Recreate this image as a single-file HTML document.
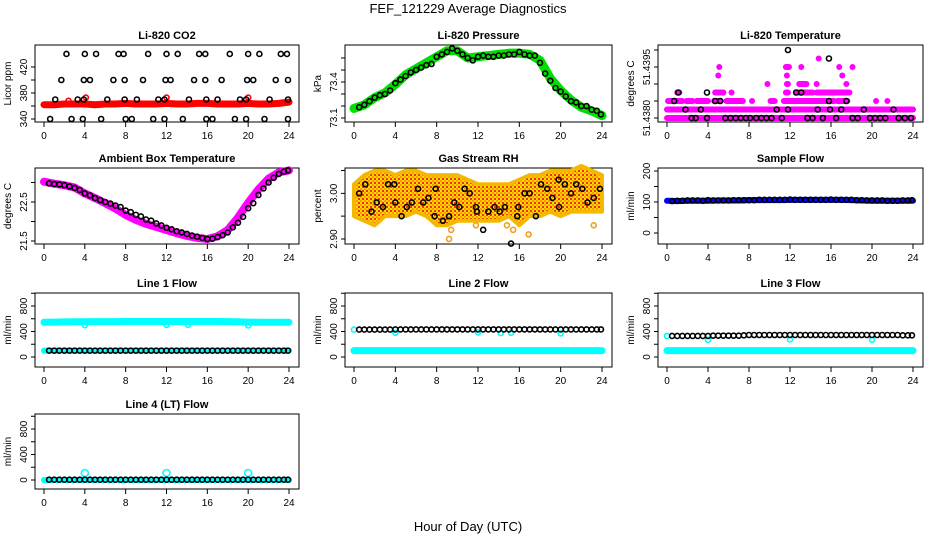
<!DOCTYPE html>
<html><head><meta charset="utf-8">
<style>
html,body{margin:0;padding:0;background:#fff;}
svg{display:block;font-family:"Liberation Sans",sans-serif;}
</style></head>
<body>
<svg id="chart" width="936" height="540" viewBox="0 0 936 540" xmlns="http://www.w3.org/2000/svg">
<defs>
<pattern id="rhpat" width="4" height="4" patternUnits="userSpaceOnUse">
<rect width="4" height="4" fill="#ffd800"/>
<rect x="0" y="0" width="2" height="2" fill="#ff9900"/>
<rect x="2" y="2" width="2" height="2" fill="#ee3300"/>
</pattern>
</defs>
<rect width="936" height="540" fill="#fff"/>
<text x="468" y="13" text-anchor="middle" font-size="13">FEF_121229  Average Diagnostics</text>
<text x="468" y="531" text-anchor="middle" font-size="13">Hour of Day (UTC)</text>
</svg>
<script>
// ---------- data ----------
const hours = [0,1,2,3,4,5,6,7,8,9,10,11,12,13,14,15,16,17,18,19,20,21,22,23,24];
const halfHours = [0.5,1,1.5,2,2.5,3,3.5,4,4.5,5,5.5,6,6.5,7,7.5,8,8.5,9,9.5,10,10.5,11,11.5,12,12.5,13,13.5,14,14.5,15,15.5,16,16.5,17,17.5,18,18.5,19,19.5,20,20.5,21,21.5,22,22.5,23,23.5,23.9];
const xTicks = [0,4,8,12,16,20,24];
const xTickLabels = ["0","4","8","12","16","20","24"];

// CO2
const co2Band = [362,362,363,363,363,362,363,363,364,363,363,363,364,363,363,364,364,363,363,363,364,363,363,364,366];
const co2SpikeHours = [2.4,4.1,12,20];
const co2SpikeVals = [368,373,373,373];
const co2BlackHours = [2.2,4,5.1,7.3,7.8,10.2,12,13.1,15.2,15.8,18.2,20,21.1,23.2,23.8, 1.7,3.9,4.5,6.8,7.9,9.7,11.9,12.4,14.7,15.8,17.4,19.9,20.5,22.7,23.9, 1.1,3.3,3.9,6.2,7.9,9.1,11.2,11.8,14.2,15.9,17,19.2,19.8,22.1,23.9, 0.6,2.7,3.8,5.6,8,8.6,10.7,11.8,13.6,15.9,16.5,18.7,19.8,21.6,23.9];
const co2BlackVals = [440,440,440,440,440,440,440,440,440,440,440,440,440,440,440, 400,400,400,400,400,400,400,400,400,400,400,400,400,400,400, 370,370,370,370,370,370,370,370,370,370,370,370,370,370,370, 340,340,340,340,340,340,340,340,340,340,340,340,340,340,340];

// Pressure
const presBand = [73.18,73.21,73.27,73.31,73.38,73.46,73.51,73.56,73.61,73.66,73.66,73.60,73.61,73.62,73.63,73.64,73.64,73.63,73.58,73.43,73.33,73.25,73.19,73.16,73.12];
const presBlack = [73.19,73.21,73.24,73.27,73.29,73.30,73.33,73.39,73.42,73.45,73.48,73.50,73.52,73.54,73.55,73.61,73.63,73.65,73.68,73.66,73.63,73.60,73.58,73.61,73.62,73.61,73.61,73.62,73.62,73.63,73.63,73.65,73.63,73.62,73.62,73.56,73.47,73.41,73.35,73.32,73.28,73.24,73.23,73.20,73.20,73.17,73.16,73.13];

// Li-820 temperature (levels in steps of 0.00025 above 51.4380)
const tempSegLevel = [0,1,2,2,2,2,2,2,2,2,2,2,2,3,3,3,3,3,3,3,4,4,4,4,4,5,5,5,6,6,6,6,6,7];
const tempSegStart = [0,0,0.1,1.9,2.9,4.6,5.8,8.3,10.1,11.4,16.6,20.4,21.5,1.0,4.7,6.3,11.6,12.6,14.6,17.5,9.8,11.7,12.9,14.6,17.5,5.0,11.7,17.1,5.1,11.6,13.1,16.8,18.1,14.8];
const tempSegEnd = [24,24,1.5,2.5,4.0,5.2,7.4,8.3,10.5,16.3,17.6,20.4,21.5,1.2,5.5,6.3,11.8,14.2,17.3,17.8,9.8,11.8,13.6,14.6,17.5,5.0,11.7,17.1,5.1,11.9,13.1,16.8,18.1,14.8];
const tempBlackHours = [0.7,1.1,1.8,2.4,2.8,3.3,3.9,3.9,4.7,5.2,5.7,6.2,6.7,7.2,7.7,8.1,8.7,9.2,9.7,10.2,10.7,11.2,11.8,11.8,12.6,13.1,13.7,14.2,14.7,15.2,15.8,15.9,15.8,16.5,17.0,17.5,18.1,18.6,19.2,19.8,20.3,20.8,21.3,22.1,22.6,23.2,23.8];
const tempBlackLvl = [2,3,1,0,0,1,0,3,2,2,0,0,0,0,0,0,0,0,0,0,1,0,1,8,3,3,0,0,1,0,2,1,7,0,1,2,0,0,1,0,0,0,0,1,0,0,0];

// Ambient box temperature
const ambBand = [23.02,22.97,22.93,22.87,22.72,22.60,22.47,22.33,22.17,22.04,21.94,21.86,21.78,21.70,21.63,21.58,21.55,21.62,21.78,22.10,22.48,22.82,23.10,23.26,23.31];
const ambBlack = [22.98,22.96,22.95,22.93,22.90,22.86,22.81,22.72,22.67,22.60,22.55,22.50,22.46,22.41,22.37,22.28,22.24,22.17,22.13,22.05,22.02,21.95,21.90,21.84,21.80,21.75,21.72,21.68,21.64,21.61,21.58,21.55,21.56,21.60,21.65,21.72,21.85,21.97,22.12,22.34,22.47,22.68,22.85,23.00,23.12,23.22,23.28,23.31];

// Gas stream RH
const rhUpper = [3.02,3.04,3.05,3.05,3.04,3.05,3.05,3.04,3.04,3.04,3.04,3.03,3.02,3.02,3.02,3.02,3.03,3.04,3.04,3.05,3.05,3.05,3.06,3.05,3.04];
const rhLower = [2.95,2.94,2.93,2.95,2.95,2.95,2.96,2.95,2.93,2.93,2.94,2.94,2.94,2.94,2.94,2.95,2.93,2.95,2.95,2.96,2.95,2.96,2.96,2.96,2.96];
const rhOutHours = [9.2,9.4,11.8,14.8,15.4,16.9,23.2];
const rhOutVals = [2.90,2.92,2.93,2.93,2.92,2.91,2.93];
const rhBlackHours = [0.5,1.1,1.7,2.2,2.8,3.3,3.9,4,4.6,5.1,5.6,6.2,6.7,7.2,7.8,7.9,8.6,9.2,9.7,10.2,10.7,11.2,11.8,11.9,12.5,13,13.6,14.1,14.6,15.2,15.8,15.9,16.5,17,17.6,18.1,18.7,19.2,19.8,19.85,20.4,21,21.5,22.1,22.6,23.2,23.8];
const rhBlackVals = [3.00,3.02,2.96,2.98,2.97,3.02,3.02,2.98,2.95,2.97,2.98,3.01,2.98,2.99,2.95,3.01,2.94,2.95,2.98,2.97,3.01,3.00,2.97,2.96,2.92,2.96,2.97,2.96,2.97,2.89,2.95,2.97,3.00,3.00,2.95,3.02,3.01,2.99,3.03,2.97,3.02,3.00,3.02,3.01,2.98,2.99,3.01];

// Sample flow
const sampleBand = [104,103,104,104,104,105,105,105,106,106,106,106,107,107,107,107,107,107,106,105,104,104,104,104,104];
const sampleBlack = [103,104,104,105,105,105,104,106,105,105,105,105,106,106,106,106,106,107,107,107,107,107,107,108,107,107,107,107,107,107,107,108,107,107,107,107,106,106,105,105,105,105,104,104,104,105,105,106];

// Line flows
const line1Cyan = [545,548,550,552,553,554,554,555,556,556,556,556,556,556,556,556,556,556,555,552,548,546,546,546,546];
const line1Black = [100,100,100,100,100,100,100,100,100,100,100,100,100,100,100,100,100,100,100,100,100,100,100,100,100,100,100,100,100,100,100,100,100,100,100,100,100,100,100,100,100,100,100,100,100,100,100,100];
const line1DipHours = [4,12,14.1,20];
const line1DipVals = [500,505,505,495];
const line2Cyan = [100,100,100,100,100,100,100,100,100,100,100,100,100,100,100,100,100,100,100,100,100,100,100,100,100];
const line2Black = [430,430,430,430,430,430,430,432,432,432,432,432,432,432,432,432,433,433,433,433,433,433,433,433,433,433,433,433,433,433,433,433,433,433,433,433,432,432,432,432,432,432,432,432,432,432,432,432];
const line2DipHours = [0,4,12,14.2,15.2,20];
const line2DipVals = [430,380,385,375,380,370];
const line3Cyan = [100,100,100,100,100,100,100,100,100,100,100,100,100,100,100,100,100,100,100,100,100,100,100,100,100];
const line3Black = [330,330,330,330,330,330,330,330,335,335,335,335,335,335,340,345,345,345,345,345,345,345,345,345,345,345,345,345,345,345,345,345,345,345,345,345,345,345,345,345,345,345,345,345,345,340,340,340];
const line3DipHours = [0,4,12,20];
const line3DipVals = [330,270,275,270];
const line4Cyan = [0,0,0,0,0,0,0,0,0,0,0,0,0,0,0,0,0,0,0,0,0,0,0,0,0];
const line4Black = [5,5,5,5,5,5,5,5,5,5,5,5,5,5,5,5,5,5,5,5,5,5,5,5,5,5,5,5,5,5,5,5,5,5,5,5,5,5,5,5,5,5,5,5,5,5,5,5];
const line4OutHours = [4,12,20];
const line4OutVals = [110,110,110];

// ---------- drawing ----------
const NS = "http://www.w3.org/2000/svg";
const svg = document.getElementById("chart");
function mk(tag, parent){ const e = document.createElementNS(NS, tag); parent.appendChild(e); return e; }

function makePanel(o){
  o.x0 = o.L + 9; o.x24 = o.R - 10;
  o.sx = t => o.x0 + t/24*(o.x24 - o.x0);
  o.sy = v => o.B - (v - o.ymin)/(o.ymax - o.ymin)*(o.B - o.T);
  const g = mk("g", svg);
  
  
  o.g = g;
  const title = mk("text", g);
  
  
  title.setAttribute("x", (o.L+o.R)/2); title.setAttribute("y", o.T-6);
  title.setAttribute("text-anchor","middle"); title.setAttribute("font-size","11"); title.setAttribute("font-weight","bold");
  title.textContent = o.title;
  const box = mk("rect", g);
  
  
  box.setAttribute("x", o.L); box.setAttribute("y", o.T);
  box.setAttribute("width", o.R-o.L); box.setAttribute("height", o.B-o.T);
  box.setAttribute("fill","none"); box.setAttribute("stroke","#000");
  const xa = mk("path", g);
  
  
  let d = "M"+o.sx(0)+" "+o.B+"H"+o.sx(24);
  xTicks.forEach(t => { d += "M"+o.sx(t)+" "+o.B+"v5"; });
  xa.setAttribute("d", d); xa.setAttribute("stroke","#000"); xa.setAttribute("fill","none");
  xTicks.forEach((t,i) => {
    const tx = mk("text", g);
    
    
    tx.setAttribute("x", o.sx(t)); tx.setAttribute("y", o.B+17);
    tx.setAttribute("text-anchor","middle"); tx.setAttribute("font-size","10");
    tx.textContent = xTickLabels[i];
  });
  const ya = mk("path", g);
  
  
  d = "M"+o.L+" "+o.sy(o.yticks[0])+"V"+o.sy(o.yticks[o.yticks.length-1]);
  o.yticks.forEach(v => { d += "M"+o.L+" "+o.sy(v)+"h-4"; });
  ya.setAttribute("d", d); ya.setAttribute("stroke","#000"); ya.setAttribute("fill","none");
  o.ylabels.forEach((lab,i) => {
    if(!lab) return;
    const y = o.sy(o.yticks[i]);
    const tx = mk("text", g);
    
    
    tx.setAttribute("transform","translate("+(o.L-8)+","+y+") rotate(-90)");
    tx.setAttribute("text-anchor","middle"); tx.setAttribute("font-size","10");
    tx.textContent = lab;
  });
  const yl = mk("text", g);
  
  
  yl.setAttribute("transform","translate("+(o.L-24)+","+((o.T+o.B)/2)+") rotate(-90)");
  yl.setAttribute("text-anchor","middle"); yl.setAttribute("font-size","10");
  yl.textContent = o.ylab;
  return o;
}
function band(p, xs, ys, color, w, name){
  const pl = mk("polyline", p.g);
  
  
  pl.setAttribute("points", xs.map((x,i)=>p.sx(x)+","+p.sy(ys[i])).join(" "));
  pl.setAttribute("fill","none"); pl.setAttribute("stroke",color);
  pl.setAttribute("stroke-width", w); pl.setAttribute("stroke-linecap","round"); pl.setAttribute("stroke-linejoin","round");
}
function points(p, xs, ys, color, name, r){
  const g = mk("g", p.g);
  
  
  xs.forEach((x,i) => {
    const c = mk("circle", g);
    
    
    c.setAttribute("cx", p.sx(x)); c.setAttribute("cy", p.sy(ys[i]));
    c.setAttribute("r", r||2.5); c.setAttribute("fill","none");
    c.setAttribute("stroke", color); c.setAttribute("stroke-width","1.6");
  });
}

const C1=[35,299], C2=[345,612], C3=[658,923];
const R1=[45,122], R2=[168,244], R3=[293,367], R4=[414,489];
const flowTicks=[0,200,400,600,800,1000], flowLabs=["0","","400","","800",""];

let p = makePanel({name:"co2-panel",title:"Li-820 CO2",ylab:"Licor ppm",L:C1[0],R:C1[1],T:R1[0],B:R1[1],ymin:335.4,ymax:453.8,yticks:[340,360,380,400,420],ylabels:["340","","380","","420"]});
band(p, hours, co2Band, "#ff0000", 7, "co2-band");
points(p, co2SpikeHours, co2SpikeVals, "#ff0000", "co2-spikes");
points(p, co2BlackHours, co2BlackVals, "#000", "co2-average-points");

p = makePanel({name:"pressure-panel",title:"Li-820 Pressure",ylab:"kPa",L:C2[0],R:C2[1],T:R1[0],B:R1[1],ymin:73.067,ymax:73.708,yticks:[73.1,73.2,73.3,73.4,73.5,73.6],ylabels:["73.1","","","73.4","",""]});
band(p, hours, presBand, "#00e000", 9, "pressure-band");
points(p, halfHours, presBlack, "#000", "pressure-average-points");

p = makePanel({name:"li820-temperature-panel",title:"Li-820 Temperature",ylab:"degrees C",L:C3[0],R:C3[1],T:R1[0],B:R1[1],ymin:51.437882,ymax:51.440147,yticks:[51.4380,51.4385,51.4390,51.4395,51.4400],ylabels:["51.4380","","","51.4395",""]});
(function(){
  const g = mk("g", p.g);
  
  
  tempSegLevel.forEach((lv,i) => {
    const y = p.sy(51.4380 + lv*0.00025);
    const s = mk("path", g);
    
    
    s.setAttribute("d","M"+p.sx(tempSegStart[i])+" "+y+"H"+p.sx(tempSegEnd[i]));
    s.setAttribute("stroke","#ff00ff"); s.setAttribute("stroke-width","6"); s.setAttribute("stroke-linecap","round");
  });
})();
points(p, tempBlackHours, tempBlackLvl.map(l=>51.4380+l*0.00025), "#000", "temperature-average-points");

p = makePanel({name:"ambient-temperature-panel",title:"Ambient Box Temperature",ylab:"degrees C",L:C1[0],R:C1[1],T:R2[0],B:R2[1],ymin:21.423,ymax:23.372,yticks:[21.5,22,22.5,23],ylabels:["21.5","","22.5",""]});
band(p, hours, ambBand, "#ff00ff", 8, "ambient-band");
points(p, halfHours, ambBlack, "#000", "ambient-average-points");

p = makePanel({name:"rh-panel",title:"Gas Stream RH",ylab:"percent",L:C2[0],R:C2[1],T:R2[0],B:R2[1],ymin:2.889,ymax:3.0556,yticks:[2.90,2.95,3.00,3.05],ylabels:["2.90","","3.00",""]});
(function(){
  const poly = mk("polygon", p.g);
  
  
  const up = hours.map((h,i)=>p.sx(h)+","+p.sy(rhUpper[i]));
  const lo = hours.map((h,i)=>p.sx(h)+","+p.sy(rhLower[i])).reverse();
  poly.setAttribute("points", up.concat(lo).join(" "));
  poly.setAttribute("fill","url(#rhpat)"); poly.setAttribute("stroke","#f5b800"); poly.setAttribute("stroke-width","4"); poly.setAttribute("stroke-linejoin","round");
})();
points(p, rhOutHours, rhOutVals, "#f0a020", "rh-outliers");
points(p, rhBlackHours, rhBlackVals, "#000", "rh-average-points");

p = makePanel({name:"sample-flow-panel",title:"Sample Flow",ylab:"ml/min",L:C3[0],R:C3[1],T:R2[0],B:R2[1],ymin:-35.5,ymax:209.7,yticks:[0,50,100,150,200],ylabels:["0","","100","","200"]});
band(p, hours, sampleBand, "#0000ff", 6, "sample-flow-band");
points(p, halfHours, sampleBlack, "#000", "sample-flow-average-points");

p = makePanel({name:"line1-flow-panel",title:"Line 1 Flow",ylab:"ml/min",L:C1[0],R:C1[1],T:R3[0],B:R3[1],ymin:-157,ymax:1004,yticks:flowTicks,ylabels:flowLabs});
band(p, hours, line1Cyan, "#00ffff", 7, "line1-cyan-band");
band(p, hours, line2Cyan, "#00ffff", 6, "line1-cyan-low-band");
points(p, line1DipHours, line1DipVals, "#00ffff", "line1-dips");
points(p, halfHours, line1Black, "#000", "line1-average-points");

p = makePanel({name:"line2-flow-panel",title:"Line 2 Flow",ylab:"ml/min",L:C2[0],R:C2[1],T:R3[0],B:R3[1],ymin:-157,ymax:1004,yticks:flowTicks,ylabels:flowLabs});
band(p, hours, line2Cyan, "#00ffff", 7, "line2-cyan-band");
points(p, line2DipHours, line2DipVals, "#00ffff", "line2-dips");
points(p, halfHours, line2Black, "#000", "line2-average-points");

p = makePanel({name:"line3-flow-panel",title:"Line 3 Flow",ylab:"ml/min",L:C3[0],R:C3[1],T:R3[0],B:R3[1],ymin:-157,ymax:1004,yticks:flowTicks,ylabels:flowLabs});
band(p, hours, line3Cyan, "#00ffff", 7, "line3-cyan-band");
points(p, line3DipHours, line3DipVals, "#00ffff", "line3-dips");
points(p, halfHours, line3Black, "#000", "line3-average-points");

p = makePanel({name:"line4-flow-panel",title:"Line 4 (LT) Flow",ylab:"ml/min",L:C1[0],R:C1[1],T:R4[0],B:R4[1],ymin:-141,ymax:1035,yticks:flowTicks,ylabels:flowLabs});
band(p, hours, line4Cyan, "#00ffff", 6, "line4-cyan-band");
points(p, line4OutHours, line4OutVals, "#00ffff", "line4-outliers", 3.5);
points(p, halfHours, line4Black, "#000", "line4-average-points");
</script>
</body></html>
